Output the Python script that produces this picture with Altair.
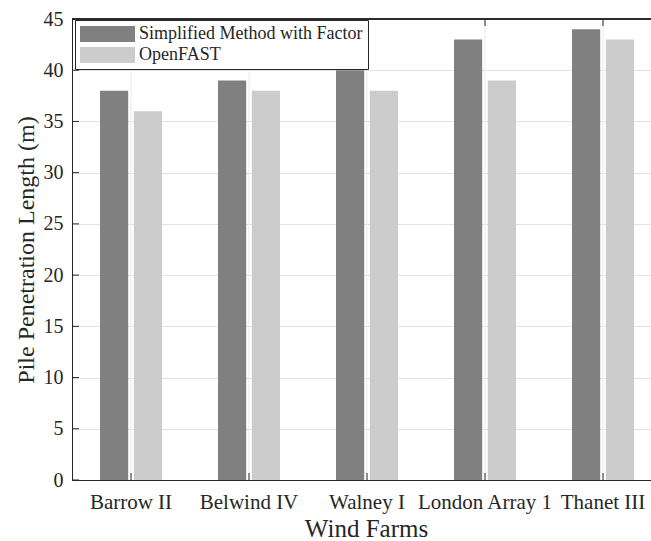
import altair as alt
import pandas as pd

farms = ["Barrow II", "Belwind IV", "Walney I", "London Array 1", "Thanet III"]
series = ["Simplified Method with Factor", "OpenFAST"]
simplified = [38, 39, 40, 43, 44]
openfast = [36, 38, 38, 39, 43]
y_ticks = [0, 5, 10, 15, 20, 25, 30, 35, 40, 45]
colors = ["#808080", "#cccccc"]

rows = []
for f, a, b in zip(farms, simplified, openfast):
    rows.append({"farm": f, "series": series[0], "value": a})
    rows.append({"farm": f, "series": series[1], "value": b})
df = pd.DataFrame(rows)
farm_df = pd.DataFrame({"farm": farms})
tick_df = pd.DataFrame({"v": y_ticks})

FONT = "Liberation Serif"
AX = "#262626"
GRID = "#e3e3e3"
VGRID = "#ebebeb"

xscale = alt.Scale(domain=farms, range=[0, 590], paddingInner=0, paddingOuter=0)
yscale = alt.Scale(domain=[0, 45], nice=False, zero=True)

x_axis = alt.Axis(
    title="Wind Farms", titleFont=FONT, titleFontSize=25, titleFontWeight="normal",
    titleColor=AX, titleBaseline="alphabetic", titleX=294, titleY=56.5,
    labelFont=FONT, labelFontSize=21, labelColor=AX, labelPadding=11, labelAngle=0,
    labelOverlap=False, ticks=False, tickSize=0, grid=False,
    domainColor=AX, domainWidth=1,
)
y_axis = alt.Axis(
    title="Pile Penetration Length (m)", titleFont=FONT, titleFontSize=24,
    titleFontWeight="normal", titleColor=AX, titleBaseline="alphabetic",
    titleX=-39, titleY=230.5, titleAngle=270,
    labelFont=FONT, labelFontSize=20, labelColor=AX, labelPadding=9,
    values=y_ticks, ticks=False, tickSize=0, grid=True, gridColor=GRID, gridWidth=1,
    domainColor=AX, domainWidth=1,
)

vgrid = alt.Chart(farm_df).mark_rule(color=VGRID, strokeWidth=1).encode(
    x=alt.X("farm:N", scale=xscale, sort=farms, axis=x_axis),
)

bars = alt.Chart(df).mark_bar().encode(
    x=alt.X("farm:N", scale=xscale, sort=farms, axis=x_axis),
    xOffset=alt.XOffset("series:N", sort=series,
                        scale=alt.Scale(domain=series, paddingInner=0.166, paddingOuter=0.8285)),
    y=alt.Y("value:Q", scale=yscale, axis=y_axis),
    color=alt.Color("series:N", sort=series,
                    scale=alt.Scale(domain=series, range=colors),
                    legend=alt.Legend(
                        title=None, orient="none", legendX=3, legendY=1,
                        fillColor="white", strokeColor=AX, padding=5,
                        symbolType="M-1,-0.29H1V0.29H-1Z", symbolSize=3025,
                        symbolStrokeWidth=0, symbolOpacity=1, clipHeight=18,
                        labelFont=FONT, labelFontSize=18, labelColor=AX,
                        labelOffset=4, rowPadding=3, labelLimit=400,
                    )),
)

xticks_bottom = alt.Chart(farm_df).mark_rule(color=AX, strokeWidth=1).encode(
    x=alt.X("farm:N", scale=xscale, sort=farms, axis=x_axis),
    y=alt.value(461), y2=alt.value(454),
)
xticks_top = alt.Chart(farm_df).mark_rule(color=AX, strokeWidth=1).encode(
    x=alt.X("farm:N", scale=xscale, sort=farms, axis=x_axis),
    y=alt.value(0), y2=alt.value(7),
)
yticks = alt.Chart(tick_df).mark_rule(color=AX, strokeWidth=1).encode(
    y=alt.Y("v:Q", scale=yscale, axis=y_axis),
    x=alt.value(0), x2=alt.value(7),
)
top_line = alt.Chart(farm_df).mark_rule(color=AX, strokeWidth=1).encode(
    x=alt.value(0), x2=alt.value(600), y=alt.value(0),
)

chart = alt.layer(vgrid, bars, xticks_bottom, xticks_top, yticks, top_line).properties(
    width=579, height=461,
    autosize=alt.AutoSizeParams(type="none"),
    padding={"left": 72, "top": 19, "right": 0, "bottom": 61},
    background="white",
).configure_view(stroke=None)

chart.save("out.html", embed_options={"renderer": "svg", "actions": False})
